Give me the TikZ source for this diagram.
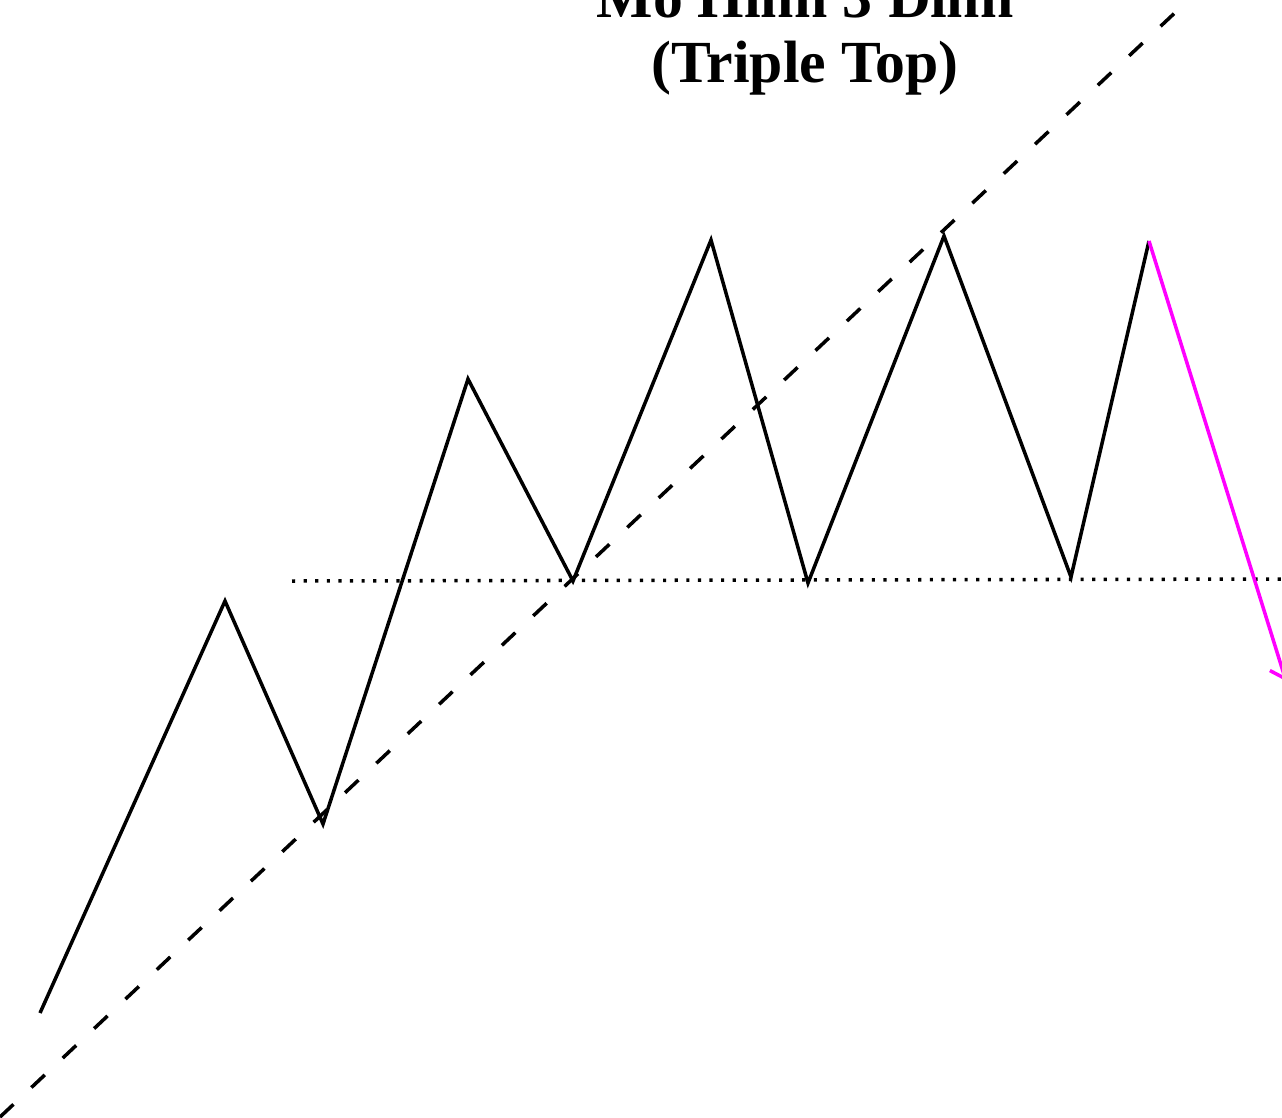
\documentclass[tikz,border=0pt]{standalone}
\usepackage{fontspec}
\setmainfont{Liberation Serif}
\usetikzlibrary{arrows.meta}
\definecolor{breakdown}{RGB}{255,0,255}

\begin{document}
\begin{tikzpicture}[
      x=0.02cm, y=-0.02cm,
      price/.style={line width=2pt, line join=miter},
      trend/.style={line width=2pt, dash pattern=on 10.5pt off 14pt},
      neck/.style={line width=2pt, dash pattern=on 1.8pt off 4.8pt},
      drop/.style={breakdown, line width=2pt, -{Straight Barb[length=7pt,width=14pt,line width=2pt]}},
      title/.style={font=\bfseries\fontsize{34}{36.5}\selectfont, align=center}
  ]
    \useasboundingbox (0,0) rectangle (1282,1117);

    % title
    \node[title, anchor=base] (title) at (805,82) {Mô Hình 3 Đỉnh\\(Triple Top)};

    % swing points
    \coordinate (p0) at (40,1013);
    \coordinate (h1) at (225,601);
    \coordinate (l1) at (323,824);
    \coordinate (h2) at (468,379);
    \coordinate (l2) at (573,581);
    \coordinate (t1) at (711,240);
    \coordinate (l3) at (808,583);
    \coordinate (t2) at (944,236);
    \coordinate (l4) at (1071,577);
    \coordinate (t3) at (1149,241);
    \coordinate (tgt) at (1286,681);

    % trend line and neckline
    \coordinate (trA) at (0,1117);
    \coordinate (trB) at (1180,8);
    \coordinate (nkA) at (292,581);
    \coordinate (nkB) at (1290,579);
    \draw[trend] (trA) -- (trB);
    \draw[neck] (nkA) -- (nkB);

    % price path
    \draw[price] (p0) -- (h1) -- (l1) -- (h2) -- (l2) -- (t1) -- (l3) -- (t2) -- (l4) -- (t3);
    \draw[drop] (t3) -- (tgt);
  \end{tikzpicture}
\end{document}
